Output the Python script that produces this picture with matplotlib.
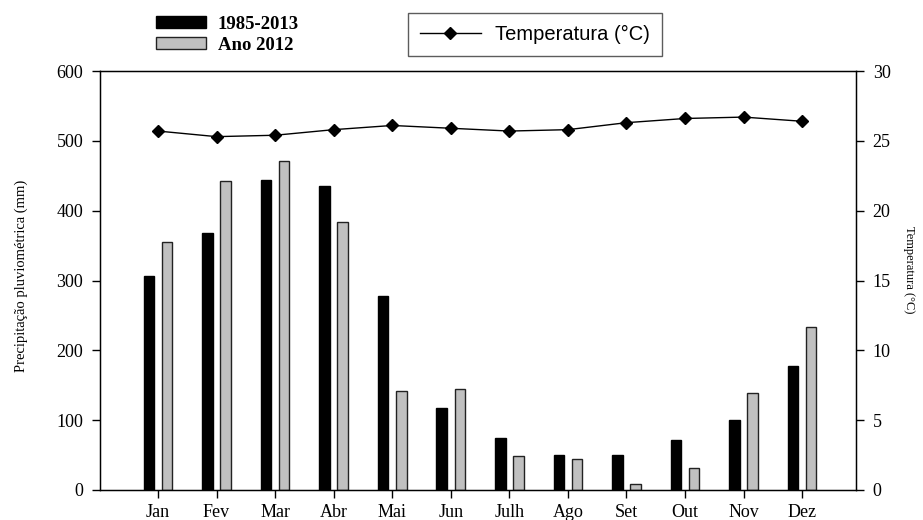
import matplotlib
matplotlib.use("Agg")
import matplotlib.pyplot as plt
from matplotlib.patches import Patch
from matplotlib.lines import Line2D
import numpy as np

months = ["Jan", "Fev", "Mar", "Abr", "Mai", "Jun", "Julh", "Ago", "Set", "Out", "Nov", "Dez"]
precip_1985_2013 = [306, 368, 444, 435, 278, 118, 74, 50, 50, 72, 100, 178]
precip_2012 = [355, 443, 471, 384, 142, 144, 49, 45, 8, 31, 139, 234]
temperatura = [25.7, 25.3, 25.4, 25.8, 26.1, 25.9, 25.7, 25.8, 26.3, 26.6, 26.7, 26.4]

serif = "Liberation Serif"
sans = "Liberation Sans"

fig = plt.figure(figsize=(9.23, 5.2), dpi=100)
ax = fig.add_axes([100/923, 1 - 490/520, 756/923, 419/520])
x = np.arange(1, 13)
w = 0.18
off = 0.155
ax.bar(x - off, precip_1985_2013, width=w, color="black", edgecolor="black", linewidth=1)
ax.bar(x + off, precip_2012, width=w, color="#c0c0c0", edgecolor="#222222", linewidth=1)
ax.set_xlim(0.01, 12.92)
ax.set_ylim(0, 600)
ax.set_xticks(x)
ax.set_xticklabels(months, fontfamily=serif, fontsize=13)
ax.set_yticks(range(0, 601, 100))
for lab in ax.get_yticklabels():
    lab.set_fontfamily(serif)
    lab.set_fontsize(13)
ax.tick_params(direction="out", length=6, width=1, pad=6)
ax.tick_params(axis="x", pad=4)
ax.set_ylabel("Precipitação pluviométrica (mm)", fontfamily=serif, fontsize=10.5)
ax.yaxis.set_label_coords(-72/756, (490 - 276) / 419)
for s in ax.spines.values():
    s.set_linewidth(1)

ax2 = ax.twinx()
ax2.plot(x, temperatura, color="black", marker="D", markersize=6, linewidth=1)
ax2.set_ylim(0, 30)
ax2.set_yticks(range(0, 31, 5))
for lab in ax2.get_yticklabels():
    lab.set_fontfamily(serif)
    lab.set_fontsize(13)
ax2.tick_params(direction="out", length=6, width=1, pad=6)
ax2.set_ylabel("Temperatura (°C)", fontfamily=serif, fontsize=9, rotation=270, va="center")
ax2.yaxis.set_label_coords((909 - 100) / 756, (490 - 270) / 419)

h1 = [Patch(facecolor="black", edgecolor="black"), Patch(facecolor="#c0c0c0", edgecolor="#222222")]
leg1 = fig.legend(h1, ["1985-2013", "Ano 2012"], loc="upper left", bbox_to_anchor=(152/923, 1 - 12/520),
                  frameon=False, prop={"family": serif, "size": 13.5, "weight": "bold"},
                  handlelength=2.7, handleheight=0.55, labelspacing=0.2, handletextpad=0.6,
                  borderpad=0.2, borderaxespad=0)
h2 = [Line2D([0], [0], color="black", marker="D", markersize=6, linewidth=1)]
leg2 = fig.legend(h2, ["Temperatura (°C)"], loc="upper left", bbox_to_anchor=(408/923, 1 - 13/520),
                  frameon=True, fancybox=False, edgecolor="#333333", prop={"family": sans, "size": 14.5},
                  handlelength=3.0, borderpad=0.6, handletextpad=0.7, borderaxespad=0)
leg2.get_frame().set_linewidth(1)

fig.savefig("out.png", dpi=100)
